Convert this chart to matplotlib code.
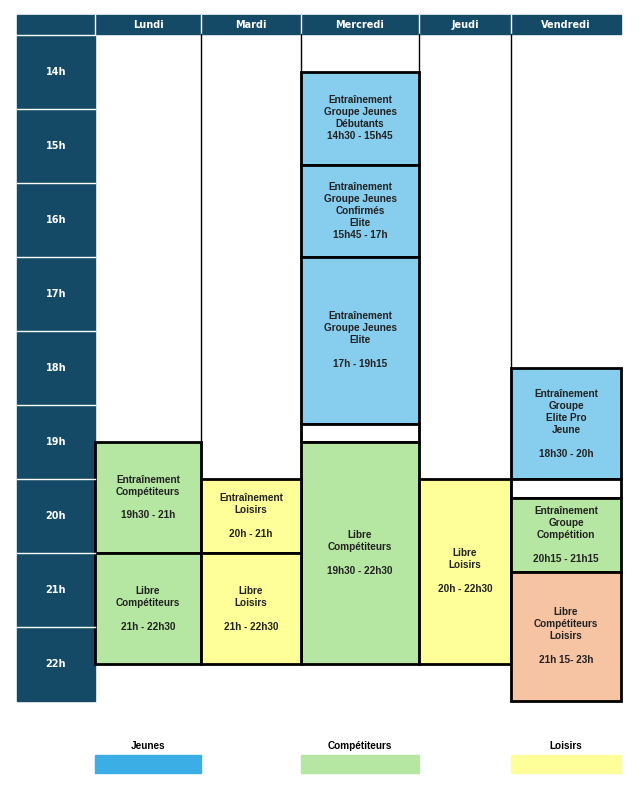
import matplotlib
matplotlib.use('Agg')
import matplotlib.pyplot as plt
from matplotlib.patches import Rectangle

days = ['Lundi', 'Mardi', 'Mercredi', 'Jeudi', 'Vendredi']
hours = [14, 15, 16, 17, 18, 19, 20, 21, 22]

# (day index, start, end, text, category)
events = [
    (2, 14.5, 15.75, 'Entraînement\nGroupe Jeunes\nDébutants\n14h30 - 15h45', 'jeunes'),
    (2, 15.75, 17.0, 'Entraînement\nGroupe Jeunes\nConfirmés\nElite\n15h45 - 17h', 'jeunes'),
    (2, 17.0, 19.25, 'Entraînement\nGroupe Jeunes\nElite\n\n17h - 19h15', 'jeunes'),
    (2, 19.25, 19.5, '', 'vide'),
    (2, 19.5, 22.5, 'Libre\nCompétiteurs\n\n19h30 - 22h30', 'comp'),
    (0, 19.5, 21.0, 'Entraînement\nCompétiteurs\n\n19h30 - 21h', 'comp'),
    (0, 21.0, 22.5, 'Libre\nCompétiteurs\n\n21h - 22h30', 'comp'),
    (1, 20.0, 21.0, 'Entraînement\nLoisirs\n\n20h - 21h', 'loisirs'),
    (1, 21.0, 22.5, 'Libre\nLoisirs\n\n21h - 22h30', 'loisirs'),
    (3, 20.0, 22.5, 'Libre\nLoisirs\n\n20h - 22h30', 'loisirs'),
    (4, 18.5, 20.0, 'Entraînement\nGroupe\nElite Pro\nJeune\n\n18h30 - 20h', 'jeunes'),
    (4, 20.0, 20.25, '', 'vide'),
    (4, 20.25, 21.25, 'Entraînement\nGroupe\nCompétition\n\n20h15 - 21h15', 'comp'),
    (4, 21.25, 23.0, 'Libre\nCompétiteurs\nLoisirs\n\n21h 15- 23h', 'mixte'),
]
legend_labels = ['Jeunes', 'Compétiteurs', 'Loisirs']

colors = {'jeunes': '#87cdee', 'comp': '#b5e6a2', 'loisirs': '#ffff99',
          'mixte': '#f6c3a3', 'vide': 'white'}
legend_colors = ['#3caee6', '#b5e6a2', '#ffff99']
navy = '#154a66'

col_edges = [95, 201, 301, 419, 511, 621]
top, hh = 35, 74


def ty(t):
    return top + (t - 14) * hh


fig = plt.figure(figsize=(6.42, 7.88), dpi=100)
ax = fig.add_axes([0, 0, 1, 1])
ax.set_xlim(0, 642)
ax.set_ylim(788, 0)
ax.axis('off')

# header
ax.add_patch(Rectangle((17, 15), 604, 19, color=navy))
for i, d in enumerate(days):
    xc = (col_edges[i] + col_edges[i + 1]) / 2
    ax.text(xc, 24.5, d, color='white', ha='center', va='center',
            fontsize=7, fontweight='bold', family='DejaVu Sans')
    if i > 0:
        ax.plot([col_edges[i]] * 2, [15, 34], color='white', lw=1)
ax.plot([95, 95], [15, 34], color='white', lw=1)

# hours column
for h in hours:
    ax.add_patch(Rectangle((17, ty(h)), 78, hh, color=navy))
    ax.plot([17, 95], [ty(h), ty(h)], color='white', lw=1)
    ax.text(56, ty(h) + 37, f'{h}h', color='white', ha='center', va='center',
            fontsize=7, fontweight='bold', family='DejaVu Sans')

# day column separators
for x in col_edges[1:5]:
    ax.plot([x, x], [34, ty(22.5)], color='black', lw=1)

for d, s, e, txt, cat in events:
    x0, x1 = col_edges[d], col_edges[d + 1]
    ax.add_patch(Rectangle((x0, ty(s)), x1 - x0, ty(e) - ty(s),
                           facecolor=colors[cat], edgecolor='black', lw=2))
    if txt:
        ax.text((x0 + x1) / 2, (ty(s) + ty(e)) / 2, txt, ha='center', va='center',
                fontsize=7.2, fontweight='bold', family='Liberation Sans',
                color='#222222', linespacing=1.25)

# legend
for i, (lab, c) in enumerate(zip(legend_labels, legend_colors)):
    x0, x1 = [(95, 201), (301, 419), (511, 621)][i]
    ax.add_patch(Rectangle((x0, 755), x1 - x0, 18, color=c))
    ax.text((x0 + x1) / 2, 746, lab, ha='center', va='center', fontsize=7.2,
            fontweight='bold', family='Liberation Sans')

fig.savefig('out.png', dpi=100)
